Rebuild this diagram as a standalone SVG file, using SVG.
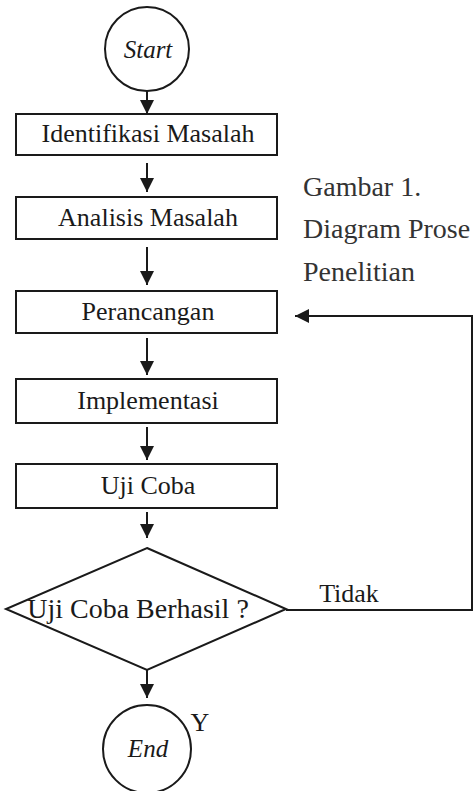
<svg xmlns="http://www.w3.org/2000/svg" width="474" height="791" viewBox="0 0 474 791">
  <style>
    .shape { fill: #ffffff; stroke: #1a1a1a; stroke-width: 2; }
    .line { fill: none; stroke: #1a1a1a; stroke-width: 2; }
    .label { font-family: "Liberation Serif", "Times New Roman", serif; font-size: 26px; fill: #1a1a1a; text-anchor: middle; }
    .term { font-style: italic; font-size: 25px; }
    .caption { font-family: "Liberation Serif", "Times New Roman", serif; font-size: 28px; fill: #333333; }
  </style>
  <defs>
    <marker id="head" viewBox="0 0 10 10" refX="10" refY="5" markerWidth="7" markerHeight="7" markerUnits="strokeWidth" orient="auto">
      <path d="M0,0 L10,5 L0,10 z" fill="#1a1a1a"/>
    </marker>
  </defs>

  <rect width="474" height="791" fill="#ffffff"/>

  <!-- connectors -->
  <g id="connectors">
    <line class="line" x1="147" y1="91" x2="147" y2="114" marker-end="url(#head)"/>
    <line class="line" x1="147" y1="163" x2="147" y2="192" marker-end="url(#head)"/>
    <line class="line" x1="147" y1="247" x2="147" y2="285" marker-end="url(#head)"/>
    <line class="line" x1="147" y1="338" x2="147" y2="375" marker-end="url(#head)"/>
    <line class="line" x1="147" y1="427" x2="147" y2="460" marker-end="url(#head)"/>
    <line class="line" x1="147" y1="512" x2="147" y2="538" marker-end="url(#head)"/>
    <line class="line" x1="147" y1="670" x2="147" y2="698" marker-end="url(#head)"/>
    <!-- "Tidak" loop back to Perancangan -->
    <polyline class="line" points="286,610 472,610 472,316 295,316" marker-end="url(#head)"/>
    <text class="label" x="349" y="602">Tidak</text>
    <text class="label" x="200" y="731">Y</text>
  </g>

  <g id="start">
    <circle class="shape" cx="147" cy="49" r="42"/>
    <text class="label term" x="148" y="58">Start</text>
  </g>

  <g id="identifikasi">
    <rect class="shape" x="16" y="114" width="261" height="41"/>
    <text class="label" x="148" y="142">Identifikasi Masalah</text>
  </g>

  <g id="analisis">
    <rect class="shape" x="16" y="197" width="261" height="42"/>
    <text class="label" x="148" y="226">Analisis Masalah</text>
  </g>

  <g id="perancangan">
    <rect class="shape" x="16" y="291" width="261" height="42"/>
    <text class="label" x="148" y="320">Perancangan</text>
  </g>

  <g id="implementasi">
    <rect class="shape" x="16" y="379" width="261" height="44"/>
    <text class="label" x="148" y="409">Implementasi</text>
  </g>

  <g id="ujicoba">
    <rect class="shape" x="16" y="464" width="261" height="44"/>
    <text class="label" x="148" y="494">Uji Coba</text>
  </g>

  <g id="decision">
    <polygon class="shape" points="147,548 286,609 147,670 6,609"/>
    <text class="label" x="138" y="618" style="font-size:28px">Uji Coba Berhasil ?</text>
  </g>

  <g id="end">
    <circle class="shape" cx="147" cy="749" r="44"/>
    <text class="label term" x="148" y="757">End</text>
  </g>

  <g id="caption">
    <text class="caption" x="303" y="196">Gambar 1.</text>
    <text class="caption" x="303" y="238">Diagram Prose</text>
    <text class="caption" x="303" y="281">Penelitian</text>
  </g>
</svg>
